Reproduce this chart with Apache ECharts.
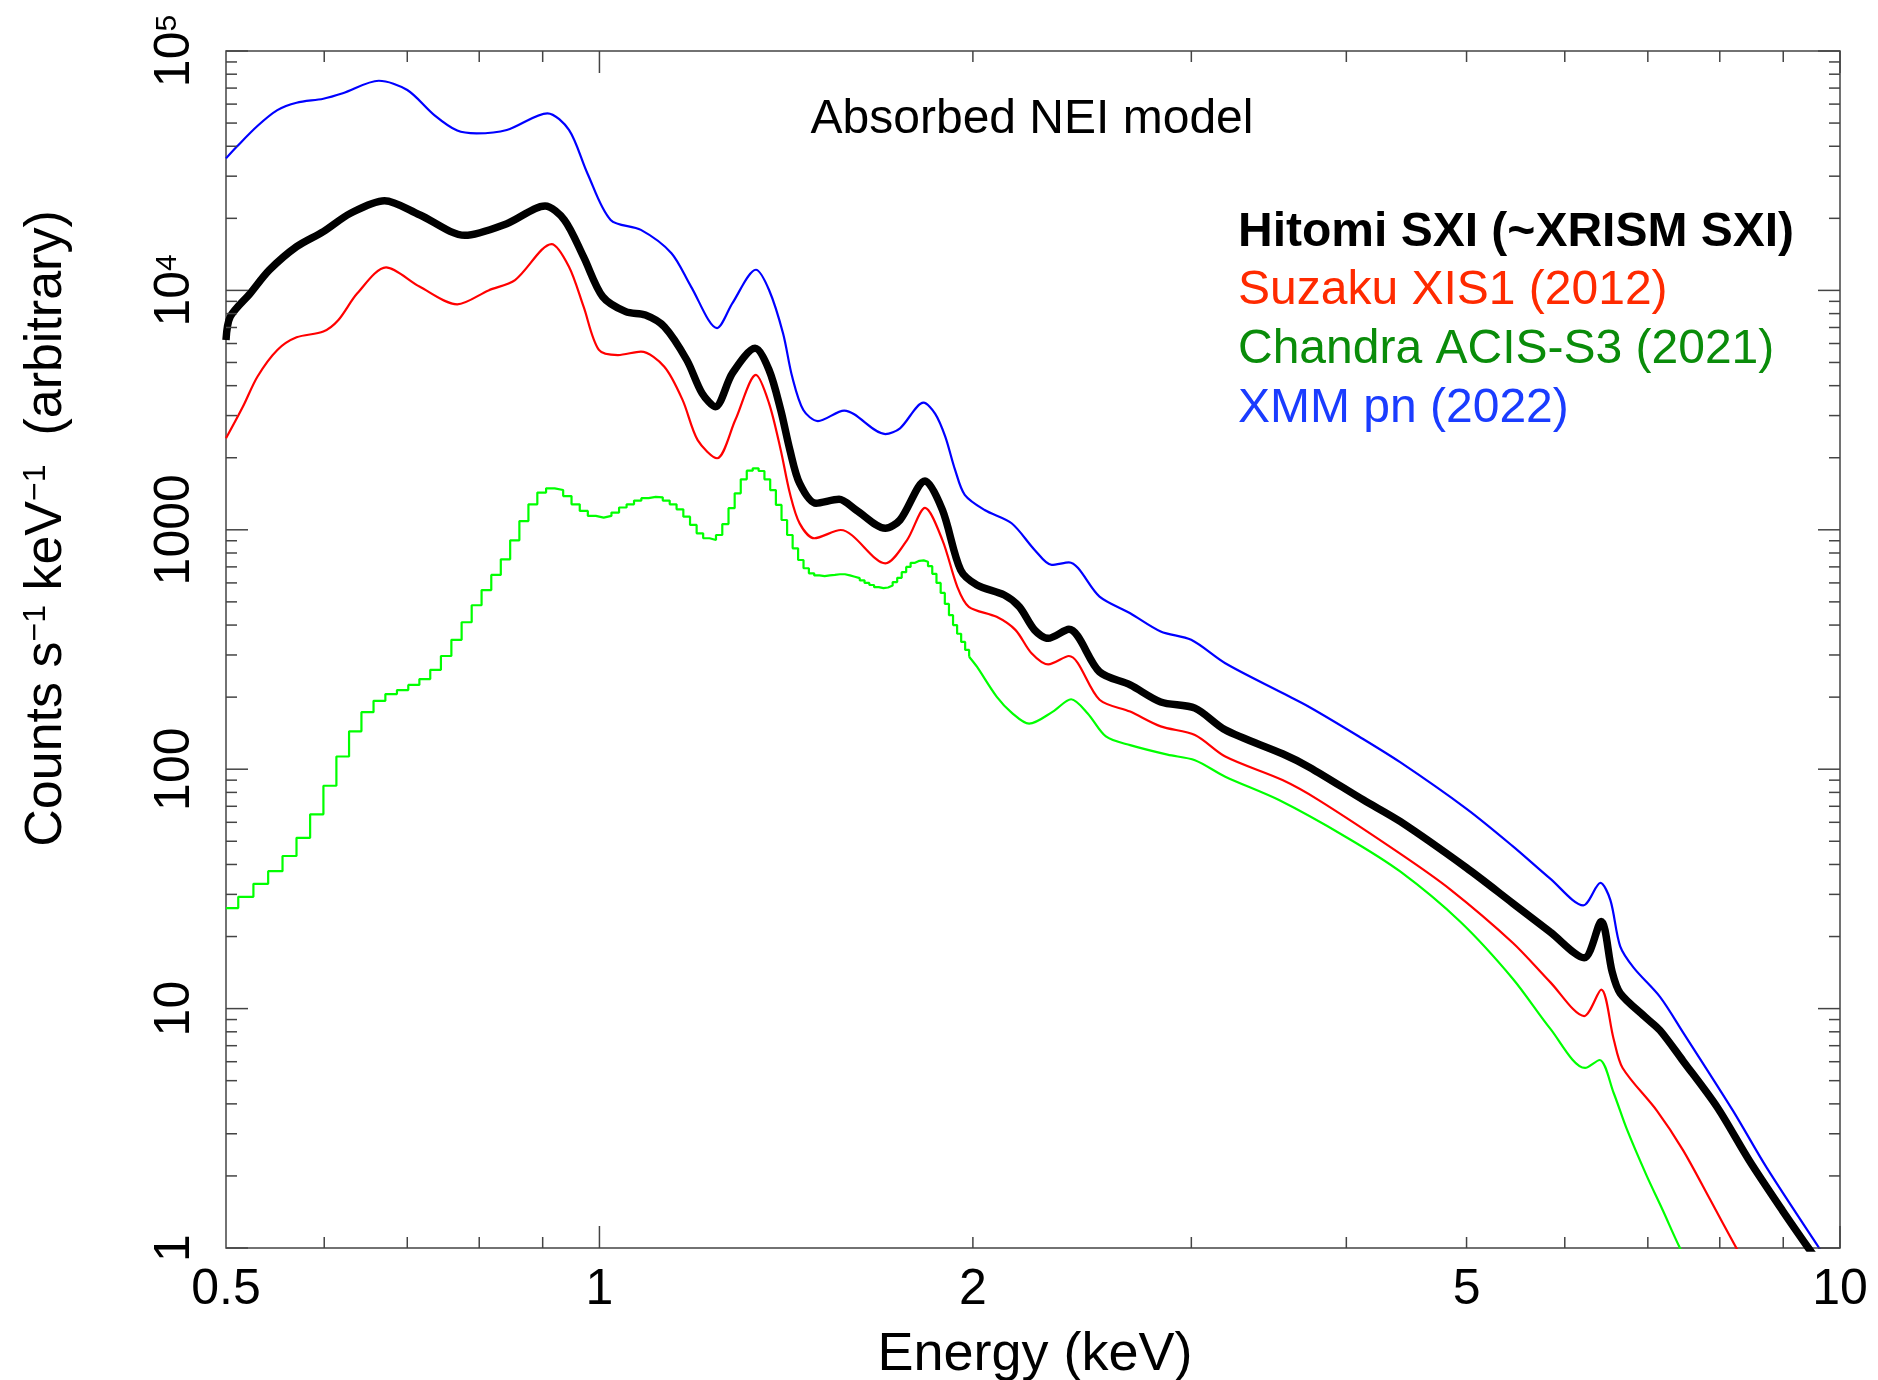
<!DOCTYPE html>
<html>
<head>
<meta charset="utf-8">
<script src="https://cdn.jsdelivr.net/npm/echarts@6/dist/echarts.min.js"></script>
<style>
html,body{margin:0;padding:0;background:#ffffff;}
#chart{width:1878px;height:1380px;}
</style>
</head>
<body>
<div id="chart"></div>
<script>
// ---------------- DATA ----------------
// XMM pn (2022) - blue
const energyXMM = [0.500,0.510,0.530,0.550,0.570,0.599,0.621,0.664,0.700,0.736,0.768,0.796,0.842,0.908,0.945,0.978,1.021,1.080,1.143,1.185,1.244,1.280,1.337,1.370,1.406,1.430,1.460,1.500,1.575,1.700,1.747,1.825,1.865,1.900,1.935,1.970,2.044,2.149,2.243,2.315,2.390,2.530,2.678,2.834,2.999,3.195,3.553,3.734,4.095,4.420,5.000,5.450,5.840,6.210,6.410,6.530,6.650,6.820,7.160,7.470,8.200,8.730,9.620,9.800];
const countsXMM = [35600,39800,48600,56600,60800,63200,66600,75100,68700,54000,46500,45300,46800,54900,46800,30800,19700,17900,14300,10400,6960,8850,12200,10040,6620,4365,3165,2845,3147,2512,2655,3397,3050,2450,1780,1400,1210,1065,824,713,731,526,448,376,347,277,208,182,137,107,68.3,47.6,34.9,27.0,33.5,28.4,18.2,14.8,11.2,7.98,3.74,2.16,1.0,0.87];

// Hitomi SXI - black
const energyHitomi = [0.500,0.504,0.523,0.542,0.570,0.599,0.630,0.671,0.716,0.779,0.842,0.904,0.937,0.971,1.006,1.050,1.089,1.128,1.176,1.210,1.240,1.280,1.335,1.370,1.400,1.424,1.450,1.495,1.560,1.610,1.700,1.747,1.830,1.890,1.955,2.015,2.120,2.180,2.243,2.300,2.390,2.530,2.678,2.834,3.020,3.195,3.553,3.734,4.130,4.420,5.000,5.450,5.840,6.220,6.420,6.550,6.650,6.980,7.160,7.470,7.960,8.450,8.990,9.430,9.600];
const countsHitomi = [6210,7770,9720,12170,15230,17600,21000,23700,20700,17000,19000,22500,19700,13800,9420,8150,7890,7050,5120,3715,3268,4510,5730,4650,3165,2155,1563,1291,1341,1210,1014,1099,1600,1210,679,588,534,477,381,352,384,255,225,191,180,146,116,102,74.3,60.5,38.7,27.5,20.9,16.3,23.1,14.3,11.6,9.14,8.11,6.06,3.88,2.32,1.43,1.0,0.88];

// Suzaku XIS1 (2012) - red
const energySuzaku = [0.500,0.516,0.530,0.550,0.570,0.599,0.616,0.638,0.673,0.716,0.768,0.814,0.855,0.915,0.945,0.971,0.999,1.035,1.080,1.128,1.167,1.200,1.244,1.287,1.337,1.370,1.400,1.424,1.450,1.490,1.565,1.700,1.770,1.830,1.890,1.943,1.985,2.090,2.165,2.230,2.300,2.390,2.530,2.678,2.834,3.020,3.195,3.553,3.800,4.420,4.850,5.450,5.840,6.220,6.420,6.570,6.680,7.120,7.470,7.860,8.250,8.400];
const countsSuzaku = [2410,3270,4360,5640,6370,6730,7520,9720,12480,10380,8750,10000,11050,15620,12560,8550,5640,5370,5550,4800,3480,2370,1990,2880,4435,3375,2155,1420,1064,922,998,724,906,1235,906,578,477,433,381,305,274,297,195,174,151,139,113,90.1,74.3,44.4,31.5,18.8,12.9,9.31,12.0,7.45,5.65,3.74,2.57,1.59,1.0,0.85];

// Chandra ACIS-S3 (2021) - green, coarse channels at low energy (left bin edges)
const energyChandraBins = [0.5000,0.5115,0.5261,0.5407,0.5553,0.5699,0.5845,0.5991,0.6137,0.6283,0.6429,0.6575,0.6721,0.6867,0.7013,0.7159,0.7305,0.7451,0.7597,0.7743,0.7889,0.8035,0.8181,0.8327,0.8473,0.8619,0.8765,0.8911,0.9057,0.9203,0.9349,0.9495,0.9641,0.9787,0.9933,1.0079,1.0225,1.0371,1.0517,1.0663,1.0809,1.0955,1.1101,1.1247,1.1393,1.1539,1.1685,1.1831,1.1977,1.2123,1.2269,1.2415,1.2561,1.2707,1.2853,1.2999,1.3145,1.3291,1.3437,1.3583,1.3729,1.3875,1.4021,1.4167,1.4313,1.4459,1.4605,1.4751,1.4897,1.5043,1.5189,1.5335,1.5481,1.5627,1.5773,1.5919,1.6065,1.6211,1.6357,1.6503,1.6649,1.6795,1.6941,1.7087,1.7233,1.7379,1.7525,1.7671,1.7817,1.7963,1.8109,1.8255,1.8401,1.8547,1.8693,1.8839,1.8985,1.9131,1.9277,1.9423,1.9569,1.9715,1.9861];
const countsChandraBins = [26.3,29.3,33.2,37.5,43.4,51.7,64.8,85.3,113,144,173,193,206,214,225,238,260,297,347,411,484,560,648,753,904,1088,1278,1430,1490,1466,1383,1278,1199,1143,1125,1143,1180,1239,1278,1324,1356,1372,1367,1324,1278,1218,1135,1048,967,922,906,951,1057,1231,1420,1625,1766,1807,1760,1625,1466,1270,1099,951,837,748,691,658,645,641,645,648,652,652,645,637,628,615,600,588,576,571,574,585,605,630,665,700,728,742,745,735,705,655,600,545,490,440,400,368,340,315,295];
// Chandra ACIS-S3, higher energies
const energyChandra = [1.986,2.015,2.090,2.150,2.220,2.320,2.400,2.475,2.560,2.678,2.870,3.020,3.195,3.530,4.000,4.420,4.940,5.450,5.840,6.230,6.400,6.570,6.730,6.980,7.200,7.430,7.550];
const countsChandra = [295,268,201,172,155,174,196,171,137,126,115,109,93,74.3,52,37.4,23.1,13.3,8.25,5.65,6.10,4.44,3.15,2.02,1.43,1.0,0.87];

// Axis ticks and labels
const xMajorTicks = [1, 10];
const xMinorTicks = [0.6, 0.7, 0.8, 0.9, 2, 3, 4, 5, 6, 7, 8, 9];
const xTickLabelValues = [0.5, 1, 2, 5, 10];
const xTickLabelTexts = ['0.5', '1', '2', '5', '10'];
const yMajorTicks = [1, 10, 100, 1000, 10000, 100000];
const yMinorMultipliers = [2, 3, 4, 5, 6, 7, 8, 9];
const yTickLabelValues = [1, 10, 100, 1000, 10000, 100000];
const yTickLabelTexts = ['{b|1}', '{b|10}', '{b|100}', '{b|1000}', '{b|10}{s|4}', '{b|10}{s|5}'];

const legendTexts = ['Hitomi SXI (~XRISM SXI)', 'Suzaku XIS1 (2012)', 'Chandra ACIS-S3 (2021)', 'XMM pn (2022)'];
const legendColors = ['#000000', '#ff2a00', '#0a8c0a', '#1a3cff'];

// ---------------- CHART ----------------
const X_MIN = 0.5, X_MAX = 10, Y_MIN = 1, Y_MAX = 100000;
const AXIS_COLOR = '#444444';
const FONT = '"Liberation Sans", Arial, Helvetica, sans-serif';
const MAJOR_LEN = 22, MINOR_LEN = 11;

const zip = (xs, ys) => xs.map((x, i) => [x, ys[i]]);

const yMinorTicks = [];
yMajorTicks.slice(0, -1).forEach(d => yMinorMultipliers.forEach(m => yMinorTicks.push(d * m)));

const xTickData = xMajorTicks.map(v => [v, Y_MIN, MAJOR_LEN]).concat(xMinorTicks.map(v => [v, Y_MIN, MINOR_LEN]));
const yTickData = yMajorTicks.map(v => [X_MIN, v, MAJOR_LEN]).concat(yMinorTicks.map(v => [X_MIN, v, MINOR_LEN]));

function renderXTick(params, api) {
  const v = api.value(0), len = api.value(2);
  const b = api.coord([v, Y_MIN]), t = api.coord([v, Y_MAX]);
  const st = { stroke: AXIS_COLOR, lineWidth: 1.5 };
  return { type: 'group', children: [
    { type: 'line', shape: { x1: b[0], y1: b[1], x2: b[0], y2: b[1] - len }, style: st },
    { type: 'line', shape: { x1: t[0], y1: t[1], x2: t[0], y2: t[1] + len }, style: st }
  ]};
}
function renderYTick(params, api) {
  const v = api.value(1), len = api.value(2);
  const l = api.coord([X_MIN, v]), r = api.coord([X_MAX, v]);
  const st = { stroke: AXIS_COLOR, lineWidth: 1.5 };
  return { type: 'group', children: [
    { type: 'line', shape: { x1: l[0], y1: l[1], x2: l[0] + len, y2: l[1] }, style: st },
    { type: 'line', shape: { x1: r[0], y1: r[1], x2: r[0] - len, y2: r[1] }, style: st }
  ]};
}
function renderXLabel(params, api) {
  const p = api.coord([api.value(0), Y_MIN]);
  return { type: 'text', x: p[0], y: p[1] + 42, style: {
    text: xTickLabelTexts[params.dataIndex], fontSize: 50, fontFamily: FONT, fill: '#000',
    align: 'center', verticalAlign: 'middle' } };
}
function renderYLabel(params, api) {
  const p = api.coord([X_MIN, api.value(1)]);
  return { type: 'text', x: p[0] - 51, y: p[1], rotation: Math.PI / 2, style: {
    text: yTickLabelTexts[params.dataIndex], fill: '#000', fontSize: 50, fontFamily: FONT,
    align: 'center', verticalAlign: 'middle',
    rich: {
      b: { fontSize: 50, fontFamily: FONT, fill: '#000', lineHeight: 44 },
      s: { fontSize: 30, fontFamily: FONT, fill: '#000', verticalAlign: 'top', lineHeight: 44 }
    } } };
}

const lineBase = { type: 'line', showSymbol: false, symbol: 'none', xAxisIndex: 0, yAxisIndex: 0, clip: true, z: 3 };

const option = {
  animation: false,
  backgroundColor: '#ffffff',
  grid: { left: 226, top: 51, width: 1614, height: 1197, show: true, borderColor: AXIS_COLOR, borderWidth: 1.5, backgroundColor: 'transparent' },
  xAxis: { type: 'log', logBase: 10, min: X_MIN, max: X_MAX, axisLine: { show: false }, axisTick: { show: false }, axisLabel: { show: false }, splitLine: { show: false } },
  yAxis: { type: 'log', logBase: 10, min: Y_MIN, max: Y_MAX, axisLine: { show: false }, axisTick: { show: false }, axisLabel: { show: false }, splitLine: { show: false } },
  series: [
    Object.assign({}, lineBase, { name: 'Chandra ACIS-S3 (2021) bins', data: zip(energyChandraBins, countsChandraBins), step: 'end', lineStyle: { color: '#00ff00', width: 2.2 } }),
    Object.assign({}, lineBase, { name: 'Chandra ACIS-S3 (2021)', data: zip(energyChandra, countsChandra), smooth: 0.3, lineStyle: { color: '#00ff00', width: 2.2 } }),
    Object.assign({}, lineBase, { name: 'XMM pn (2022)', data: zip(energyXMM, countsXMM), smooth: 0.3, lineStyle: { color: '#0000ff', width: 2.2 } }),
    Object.assign({}, lineBase, { name: 'Suzaku XIS1 (2012)', data: zip(energySuzaku, countsSuzaku), smooth: 0.3, lineStyle: { color: '#ff0000', width: 2.2 } }),
    Object.assign({}, lineBase, { name: 'Hitomi SXI (~XRISM SXI)', data: zip(energyHitomi, countsHitomi), smooth: 0.3, lineStyle: { color: '#000000', width: 7.5 }, z: 4 }),
    { type: 'custom', name: 'xticks', data: xTickData, renderItem: renderXTick, silent: true, z: 5 },
    { type: 'custom', name: 'yticks', data: yTickData, renderItem: renderYTick, silent: true, z: 5 },
    { type: 'custom', name: 'xlabels', data: xTickLabelValues.map(v => [v, Y_MIN]), renderItem: renderXLabel, silent: true, clip: false, z: 5 },
    { type: 'custom', name: 'ylabels', data: yTickLabelValues.map(v => [X_MIN, v]), renderItem: renderYLabel, silent: true, clip: false, z: 5 }
  ],
  graphic: [
    { type: 'text', x: 1032, y: 120, style: { text: 'Absorbed NEI model', fontSize: 48, fontFamily: FONT, fill: '#000', align: 'center', verticalAlign: 'middle' } },
    { type: 'text', x: 1238, y: 232.4, style: { text: legendTexts[0], fontSize: 48, fontWeight: 'bold', fontFamily: FONT, fill: legendColors[0], align: 'left', verticalAlign: 'middle' } },
    { type: 'text', x: 1238, y: 291.1, style: { text: legendTexts[1], fontSize: 48, fontFamily: FONT, fill: legendColors[1], align: 'left', verticalAlign: 'middle' } },
    { type: 'text', x: 1238, y: 349.8, style: { text: legendTexts[2], fontSize: 48, fontFamily: FONT, fill: legendColors[2], align: 'left', verticalAlign: 'middle' } },
    { type: 'text', x: 1238, y: 408.5, style: { text: legendTexts[3], fontSize: 48, fontFamily: FONT, fill: legendColors[3], align: 'left', verticalAlign: 'middle' } },
    { type: 'text', x: 1035, y: 1355, style: { text: 'Energy (keV)', fontSize: 54, fontFamily: FONT, fill: '#000', align: 'center', verticalAlign: 'middle' } },
    { type: 'text', x: 46.5, y: 528.5, rotation: Math.PI / 2, style: {
        text: '{n|Counts s}{s|\u22121}{n| keV}{s|\u22121}{n|  (arbitrary)}', fill: '#000', fontSize: 52, fontFamily: FONT,
        align: 'center', verticalAlign: 'middle',
        rich: {
          n: { fontSize: 52, fontFamily: FONT, fill: '#000', lineHeight: 52 },
          s: { fontSize: 32, fontFamily: FONT, fill: '#000', verticalAlign: 'top', lineHeight: 52 }
        } } }
  ]
};

const chart = echarts.init(document.getElementById('chart'), null, { renderer: 'canvas' });
chart.setOption(option);
</script>
</body>
</html>
